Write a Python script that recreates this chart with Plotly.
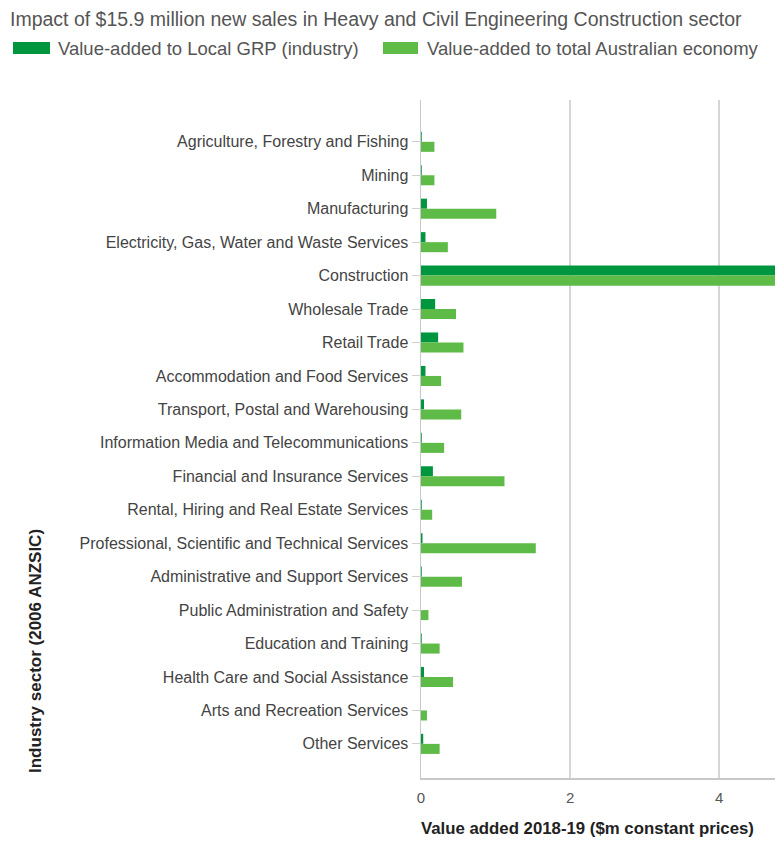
import plotly.graph_objects as go

categories = [
    "Agriculture, Forestry and Fishing",
    "Mining",
    "Manufacturing",
    "Electricity, Gas, Water and Waste Services",
    "Construction",
    "Wholesale Trade",
    "Retail Trade",
    "Accommodation and Food Services",
    "Transport, Postal and Warehousing",
    "Information Media and Telecommunications",
    "Financial and Insurance Services",
    "Rental, Hiring and Real Estate Services",
    "Professional, Scientific and Technical Services",
    "Administrative and Support Services",
    "Public Administration and Safety",
    "Education and Training",
    "Health Care and Social Assistance",
    "Arts and Recreation Services",
    "Other Services",
]

local_grp = [0.01, 0.01, 0.08, 0.06, 5.6, 0.19, 0.23, 0.06, 0.04, 0.01,
             0.16, 0.01, 0.02, 0.01, 0.00, 0.01, 0.04, 0.00, 0.03]
total_aus = [0.18, 0.18, 1.01, 0.36, 6.9, 0.47, 0.57, 0.27, 0.54, 0.31,
             1.12, 0.15, 1.54, 0.55, 0.10, 0.25, 0.43, 0.08, 0.25]

x_ticks = [0, 2, 4]

title_text = "Impact of $15.9 million new sales in Heavy and Civil Engineering Construction sector"
series_names = ["Value-added to Local GRP (industry)", "Value-added to total Australian economy"]
x_title = "Value added 2018-19 ($m constant prices)"
y_title = "Industry sector (2006 ANZSIC)"

dark = "#00963f"
light = "#5fbb47"
font_family = "Liberation Sans, Arial, sans-serif"

# figure geometry in page pixels
W, H = 775, 842
L, R, T, B = 421, 0, 100, 64
PW, PH = W - L - R, H - T - B


def px(x):
    return (x - L) / PW


def py(y):
    return (H - B - y) / PH


fig = go.Figure()
fig.add_trace(go.Bar(y=categories, x=local_grp, orientation="h", name=series_names[0],
                     marker=dict(color=dark, line=dict(width=0)), showlegend=False))
fig.add_trace(go.Bar(y=categories, x=total_aus, orientation="h", name=series_names[1],
                     marker=dict(color=light, line=dict(width=0)), showlegend=False))

fig.update_layout(
    width=W, height=H,
    margin=dict(l=L, r=R, t=T, b=B, autoexpand=False),
    paper_bgcolor="white", plot_bgcolor="white",
    font=dict(family=font_family, color="#444444", size=16),
    barmode="group", bargap=0.4, bargroupgap=0,
    showlegend=False,
)

fig.update_xaxes(range=[0, 4.75], tickvals=x_ticks, showgrid=True, gridcolor="#d6d6d6",
                 gridwidth=1.5, zeroline=False, showline=True, linecolor="#c8c8c8",
                 linewidth=1.5, ticks="", ticklabelstandoff=5,
                 tickfont=dict(size=15, color="#555555"), fixedrange=True)
fig.update_yaxes(type="category", range=[19.02, -1.25], showgrid=False, zeroline=False,
                 showline=True, linecolor="#c8c8c8", linewidth=1.5, ticks="outside",
                 ticklen=8, tickcolor="#d0d0d0", tickfont=dict(size=16, color="#444444"),
                 fixedrange=True)

# title
fig.add_annotation(text=title_text, xref="paper", yref="paper", x=px(8), y=py(19),
                   xanchor="left", yanchor="middle", showarrow=False,
                   font=dict(size=19.5, color="#555555"))

# legend (drawn as swatches + text)
legend_items = [(series_names[0], dark, 13, 50, 56), (series_names[1], light, 383, 418, 425)]
for name, color, x0, x1, xt in legend_items:
    fig.add_shape(type="rect", xref="paper", yref="paper", x0=px(x0), x1=px(x1),
                  y0=py(54), y1=py(42), fillcolor=color, line=dict(width=0))
    fig.add_annotation(text=name, xref="paper", yref="paper", x=px(xt), y=py(48),
                       xanchor="left", yanchor="middle", showarrow=False,
                       font=dict(size=18.5, color="#555555"))

# axis titles
fig.add_annotation(text="<b>" + x_title + "</b>", xref="paper", yref="paper",
                   x=px(587), y=py(828), xanchor="center", yanchor="middle", showarrow=False,
                   font=dict(size=16.8, color="#222222"))
fig.add_annotation(text="<b>" + y_title + "</b>", xref="paper", yref="paper",
                   x=px(35), y=py(651), xanchor="center", yanchor="middle", textangle=-90,
                   showarrow=False, font=dict(size=17, color="#222222"))

fig.write_html("out.html",
               config={"displayModeBar": False, "staticPlot": True},
               post_script="document.body.style.margin='0';document.body.style.overflow='hidden';")
